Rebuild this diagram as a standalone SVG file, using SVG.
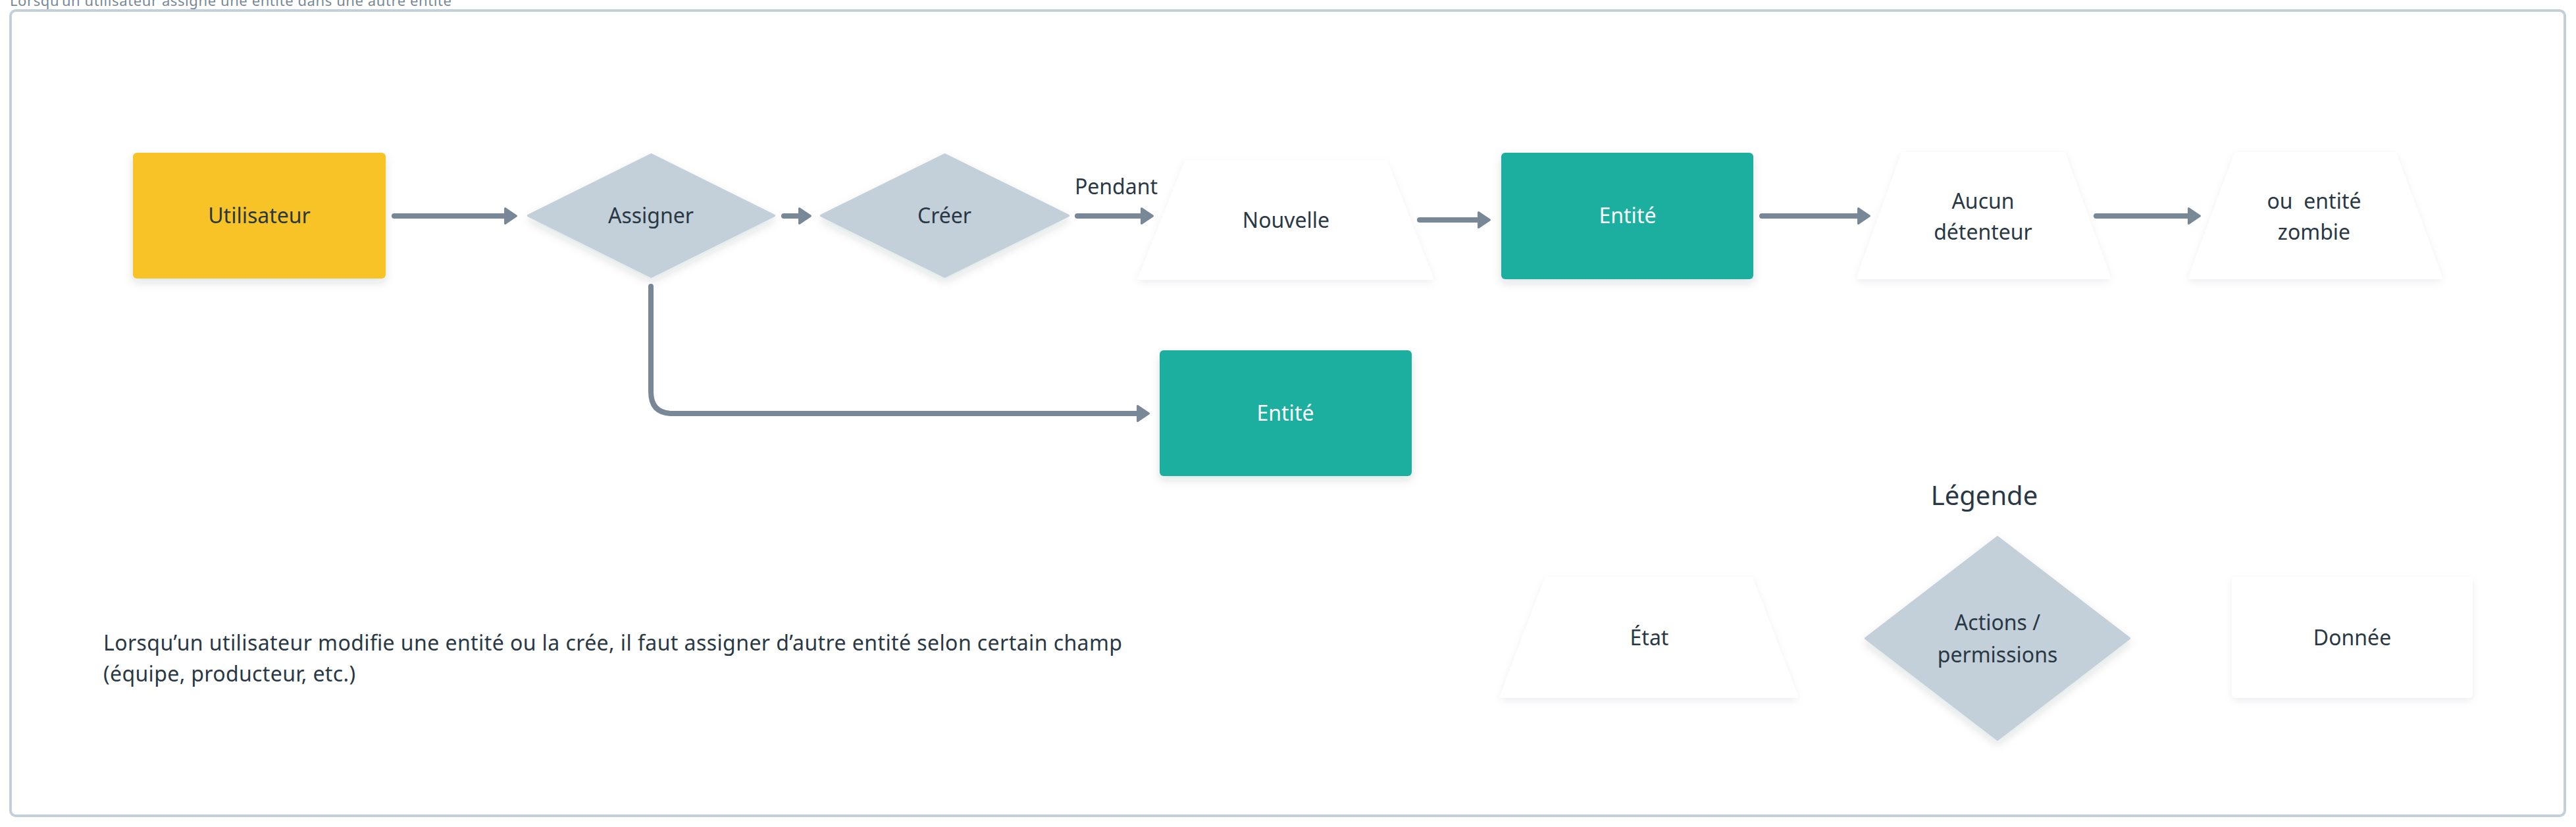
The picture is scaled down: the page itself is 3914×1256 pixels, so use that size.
<svg xmlns="http://www.w3.org/2000/svg" width="3914" height="1256" viewBox="0 0 3914 1256">
<style>
.t{font-family:"Noto Sans","Liberation Sans",sans-serif;font-size:32px;fill:#293845;text-anchor:middle}
.tw{fill:#ffffff}
.desc{font-family:"Noto Sans","Liberation Sans",sans-serif;font-size:32px;fill:#293845}
.title{font-family:"Noto Sans","Liberation Sans",sans-serif;font-size:22px;fill:#788896}
.conn{fill:none;stroke:#788896;stroke-width:8;stroke-linecap:round;stroke-linejoin:round}
.dia{fill:#c3cfd9;stroke:#c3cfd9;stroke-width:4;stroke-linejoin:round}
.trap{fill:#ffffff;stroke:#ffffff;stroke-width:4;stroke-linejoin:round}
</style>
<defs>
<filter id="sh" x="-20%" y="-20%" width="140%" height="150%">
<feDropShadow dx="0" dy="6" stdDeviation="7" flood-color="#1b2a38" flood-opacity="0.13"/>
</filter>
<filter id="shl" x="-20%" y="-20%" width="140%" height="150%">
<feDropShadow dx="0" dy="4" stdDeviation="6" flood-color="#1b2a38" flood-opacity="0.07"/>
</filter>
<marker id="ah" viewBox="0 0 20 26" refX="2" refY="13" markerWidth="20" markerHeight="26" markerUnits="userSpaceOnUse" orient="auto" overflow="visible">
<path d="M1.5,1.5 L18.5,13 L1.5,24.5 Z" fill="#788896" stroke="#788896" stroke-width="3" stroke-linejoin="round"/>
</marker>
</defs>
<rect x="0" y="0" width="3914" height="1256" fill="#ffffff"/>
<text class="title" x="15" y="9" textLength="671" lengthAdjust="spacing">Lorsqu’un utilisateur assigne une entité dans une autre entité</text>
<rect x="16" y="16" width="3881" height="1223" rx="8" fill="#ffffff" stroke="#c3cfd9" stroke-width="4"/>

<g id="connectors">
<path class="conn" d="M599,328 H768" marker-end="url(#ah)"/>
<path class="conn" d="M1191,328 H1215" marker-end="url(#ah)"/>
<path class="conn" d="M1637,328 H1735" marker-end="url(#ah)"/>
<path class="conn" d="M2157,334 H2247" marker-end="url(#ah)"/>
<path class="conn" d="M2677,328 H2824" marker-end="url(#ah)"/>
<path class="conn" d="M3185,328 H3326" marker-end="url(#ah)"/>
<path class="conn" d="M989,435 V595 Q989,628 1022,628 H1729" marker-end="url(#ah)"/>
<text class="t" x="1696" y="295">Pendant</text>
</g>

<g id="utilisateur">
<rect x="202" y="232" width="384" height="191" rx="6" fill="#f7c325" filter="url(#sh)"/>
<text class="t" x="394" y="339">Utilisateur</text>
</g>
<g id="assigner">
<polygon class="dia" points="989.5,235 1176,327.5 989.5,420 803,327.5" filter="url(#sh)"/>
<text class="t" x="989" y="339">Assigner</text>
</g>
<g id="creer">
<polygon class="dia" points="1435.5,235 1623,327.5 1435.5,420 1248,327.5" filter="url(#sh)"/>
<text class="t" x="1435" y="339">Créer</text>
</g>
<g id="nouvelle">
<polygon class="trap" points="1802,245 2106,245 2176,423 1731,423" filter="url(#shl)"/>
<text class="t" x="1954" y="346">Nouvelle</text>
</g>
<g id="entite1">
<rect x="2281" y="232" width="383" height="192" rx="6" fill="#1aae9f" filter="url(#sh)"/>
<text class="t tw" x="2473" y="339">Entité</text>
</g>
<g id="aucun">
<polygon class="trap" points="2891,233 3136,233 3205,422 2823,422" filter="url(#shl)"/>
<text class="t" x="3013" y="317">Aucun</text>
<text class="t" x="3013" y="364">détenteur</text>
</g>
<g id="zombie">
<polygon class="trap" points="3397,233 3639,233 3709,422 3327,422" filter="url(#shl)"/>
<text class="t" x="3516" y="317" xml:space="preserve">ou&#160; entité</text>
<text class="t" x="3516" y="364">zombie</text>
</g>
<g id="entite2">
<rect x="1762" y="532" width="383" height="191" rx="6" fill="#1aae9f" filter="url(#sh)"/>
<text class="t tw" x="1953" y="639">Entité</text>
</g>

<g id="legende">
<text class="t" x="3015" y="767" style="font-size:40px">Légende</text>
</g>
<g id="legend-etat">
<polygon class="trap" points="2349,878 2661,878 2730,1058 2281,1058" filter="url(#shl)"/>
<text class="t" x="2506" y="980">État</text>
</g>
<g id="legend-actions">
<polygon class="dia" points="3035,816 3235,969.5 3035,1123 2835,969.5" filter="url(#sh)"/>
<text class="t" x="3035" y="957">Actions /</text>
<text class="t" x="3035" y="1006">permissions</text>
</g>
<g id="legend-donnee">
<rect x="3391" y="876" width="366" height="184" rx="6" fill="#ffffff" filter="url(#shl)"/>
<text class="t" x="3574" y="980">Donnée</text>
</g>

<g id="description">
<text class="desc" x="157" y="988" textLength="1548" lengthAdjust="spacing">Lorsqu’un utilisateur modifie une entité ou la crée, il faut assigner d’autre entité selon certain champ</text>
<text class="desc" x="157" y="1035" textLength="383" lengthAdjust="spacing">(équipe, producteur, etc.)</text>
</g>
</svg>
